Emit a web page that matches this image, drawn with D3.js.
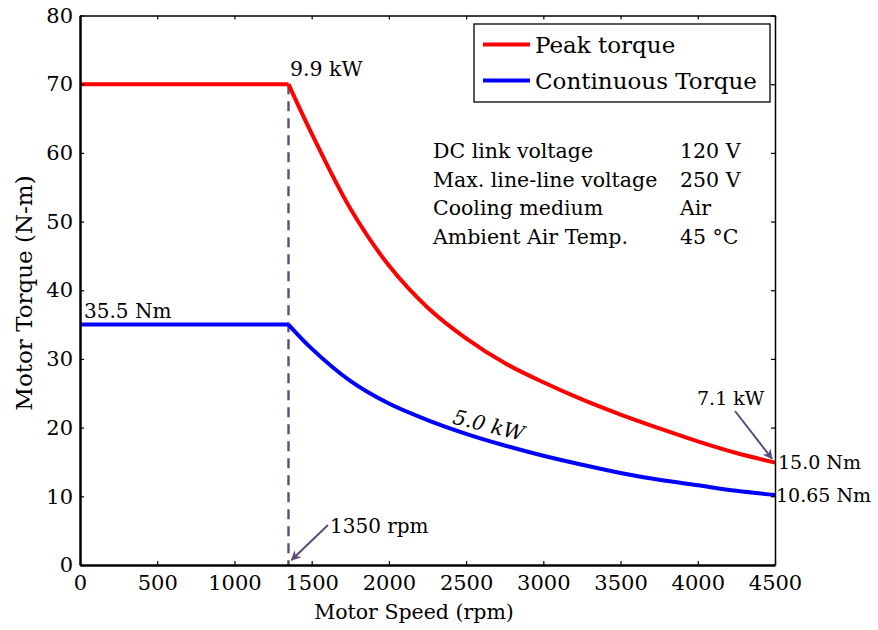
<!DOCTYPE html>
<html>
<head>
<meta charset="utf-8">
<script src="https://cdn.jsdelivr.net/npm/d3@7"></script>
<style>
  body { margin: 0; background: #fff; }
  svg { display: block; font-family: "DejaVu Serif", serif; }
  .axis path, .axis line { stroke: #000; }
  .axis text { fill: #000; font-size: 21px; font-family: "DejaVu Serif", serif; }
</style>
</head>
<body>
<script>
// values (speed in rpm, torque in N-m)
let peakSpeed = [0, 1350, 1500, 1750, 2000, 2250, 2500, 2750, 3000, 3250, 3500, 3750, 4000, 4250, 4500];
let peakTorque = [70, 70, 62.8, 51.9, 43.6, 37.5, 33.0, 29.4, 26.6, 24.1, 21.9, 19.9, 18.0, 16.3, 14.9];

let contSpeed = [0, 1350, 1500, 1750, 2000, 2250, 2500, 2750, 3000, 3250, 3500, 3750, 4000, 4250, 4500];
let contTorque = [35, 35, 31.5, 26.8, 23.5, 21.1, 19.1, 17.4, 15.9, 14.6, 13.4, 12.4, 11.6, 10.8, 10.2];

let xTicks = [0, 500, 1000, 1500, 2000, 2500, 3000, 3500, 4000, 4500];
let yTicks = [0, 10, 20, 30, 40, 50, 60, 70, 80];

let legendLabels = ["Peak torque", "Continuous Torque"];
let legendColors = ["#ff0000", "#0000ff"];

let specNames = ["DC link voltage", "Max. line-line voltage", "Cooling medium", "Ambient Air Temp."];
let specValues = ["120 V", "250 V", "Air", "45 \u00B0C"];

let baseSpeed = 1350;

let opts = {
    width: 878,
    height: 630,
    left: 80,
    right: 775,
    top: 15.5,
    bottom: 565
};

let svg = d3.select("body").append("svg")
    .attr("width", opts.width)
    .attr("height", opts.height);

let x = d3.scaleLinear().domain([0, 4500]).range([opts.left, opts.right]);
let y = d3.scaleLinear().domain([0, 80]).range([opts.bottom, opts.top]);

let annColor = "#5b4d7e";

// arrow marker
svg.append("defs").append("marker")
    .attr("id", "arrow")
    .attr("viewBox", "0 0 10 10")
    .attr("refX", 9).attr("refY", 5)
    .attr("markerWidth", 5).attr("markerHeight", 5)
    .attr("markerUnits", "strokeWidth")
    .attr("orient", "auto")
    .append("path")
    .attr("d", "M0,0 L10,5 L0,10 L3,5 Z")
    .attr("fill", annColor);

// dashed base-speed line
svg.append("line")
    .attr("x1", x(baseSpeed)).attr("x2", x(baseSpeed))
    .attr("y1", y(70)).attr("y2", y(0))
    .attr("stroke", annColor)
    .attr("stroke-width", 2.4)
    .attr("stroke-dasharray", "10,7");

// curves: flat part straight, field-weakening part smoothed
let flatLine = d3.line()
    .x(d => x(d[0]))
    .y(d => y(d[1]));

let curveLine = d3.line()
    .x(d => x(d[0]))
    .y(d => y(d[1]))
    .curve(d3.curveCatmullRom.alpha(0.5));

let series = [
    { speed: peakSpeed, torque: peakTorque, color: legendColors[0] },
    { speed: contSpeed, torque: contTorque, color: legendColors[1] }
];

series.forEach(s => {
    let pts = s.speed.map((v, i) => [v, s.torque[i]]);
    let g = svg.append("g")
        .attr("fill", "none")
        .attr("stroke", s.color)
        .attr("stroke-width", 4)
        .attr("stroke-linejoin", "round");
    g.append("path").attr("d", flatLine(pts.filter(p => p[0] <= baseSpeed)));
    g.append("path").attr("d", curveLine(pts.filter(p => p[0] >= baseSpeed)));
});

// axes
let bottomAxis = svg.append("g").attr("class", "axis")
    .attr("transform", `translate(0,${opts.bottom})`)
    .call(d3.axisBottom(x).tickValues(xTicks).tickFormat(d3.format("d"))
        .tickSizeInner(-4).tickSizeOuter(0).tickPadding(10));
bottomAxis.select(".domain").attr("stroke-width", 2.5);

let leftAxis = svg.append("g").attr("class", "axis")
    .attr("transform", `translate(${opts.left},0)`)
    .call(d3.axisLeft(y).tickValues(yTicks).tickSizeInner(-4).tickSizeOuter(0).tickPadding(7));
leftAxis.select(".domain").attr("stroke-width", 2.5);

let topAxis = svg.append("g").attr("class", "axis")
    .attr("transform", `translate(0,${opts.top})`)
    .call(d3.axisTop(x).tickValues(xTicks).tickSizeInner(-4).tickSizeOuter(0).tickFormat(""));
topAxis.select(".domain").attr("stroke-width", 1.5);

let rightAxis = svg.append("g").attr("class", "axis")
    .attr("transform", `translate(${opts.right},0)`)
    .call(d3.axisRight(y).tickValues(yTicks).tickSizeInner(-4).tickSizeOuter(0).tickFormat(""));
rightAxis.select(".domain").attr("stroke-width", 1.5);

svg.selectAll(".axis .tick line").attr("stroke-width", 1.2);

// axis titles
svg.append("text")
    .attr("x", 414)
    .attr("y", 619)
    .attr("text-anchor", "middle")
    .attr("font-size", 20.5)
    .text("Motor Speed (rpm)");

svg.append("text")
    .attr("transform", "translate(32,293) rotate(-90)")
    .attr("text-anchor", "middle")
    .attr("font-size", 23)
    .text("Motor Torque (N-m)");

// legend
let legend = svg.append("g");
legend.append("rect")
    .attr("x", 474).attr("y", 24)
    .attr("width", 296).attr("height", 78)
    .attr("fill", "#fff")
    .attr("stroke", "#000")
    .attr("stroke-width", 1.3);

legendLabels.forEach((lab, i) => {
    let ly = 44.5 + i * 36;
    legend.append("line")
        .attr("x1", 483).attr("x2", 530)
        .attr("y1", ly).attr("y2", ly)
        .attr("stroke", legendColors[i])
        .attr("stroke-width", 4);
    legend.append("text")
        .attr("x", 535).attr("y", ly + 8)
        .attr("font-size", 23)
        .text(lab);
});

// specification table
specNames.forEach((name, i) => {
    let ty = 158 + i * 28.5;
    svg.append("text").attr("x", 433).attr("y", ty).attr("font-size", 20.5).text(name);
    svg.append("text").attr("x", 680).attr("y", ty).attr("font-size", 20.5).text(specValues[i]);
});

// annotations
svg.append("text").attr("x", 290).attr("y", 76).attr("font-size", 20.5).text("9.9 kW");
svg.append("text").attr("x", 84).attr("y", 318).attr("font-size", 20).text("35.5 Nm");
svg.append("text").attr("x", 778).attr("y", 469).attr("font-size", 19).text("15.0 Nm");
svg.append("text").attr("x", 776).attr("y", 502).attr("font-size", 19).text("10.65 Nm");
svg.append("text").attr("x", 697).attr("y", 405).attr("font-size", 19).text("7.1 kW");
svg.append("text").attr("x", 330).attr("y", 533).attr("font-size", 20).text("1350 rpm");

svg.append("text")
    .attr("transform", "translate(487,432) rotate(14)")
    .attr("text-anchor", "middle")
    .attr("font-size", 20.5)
    .attr("font-style", "italic")
    .text("5.0 kW");

svg.append("line")
    .attr("x1", 735).attr("y1", 411)
    .attr("x2", x(4500) - 3).attr("y2", y(peakTorque[peakTorque.length - 1]) - 4)
    .attr("stroke", annColor).attr("stroke-width", 2)
    .attr("marker-end", "url(#arrow)");

svg.append("line")
    .attr("x1", 328).attr("y1", 525)
    .attr("x2", x(baseSpeed) + 3).attr("y2", y(0) - 5)
    .attr("stroke", annColor).attr("stroke-width", 2)
    .attr("marker-end", "url(#arrow)");
</script>
</body>
</html>
